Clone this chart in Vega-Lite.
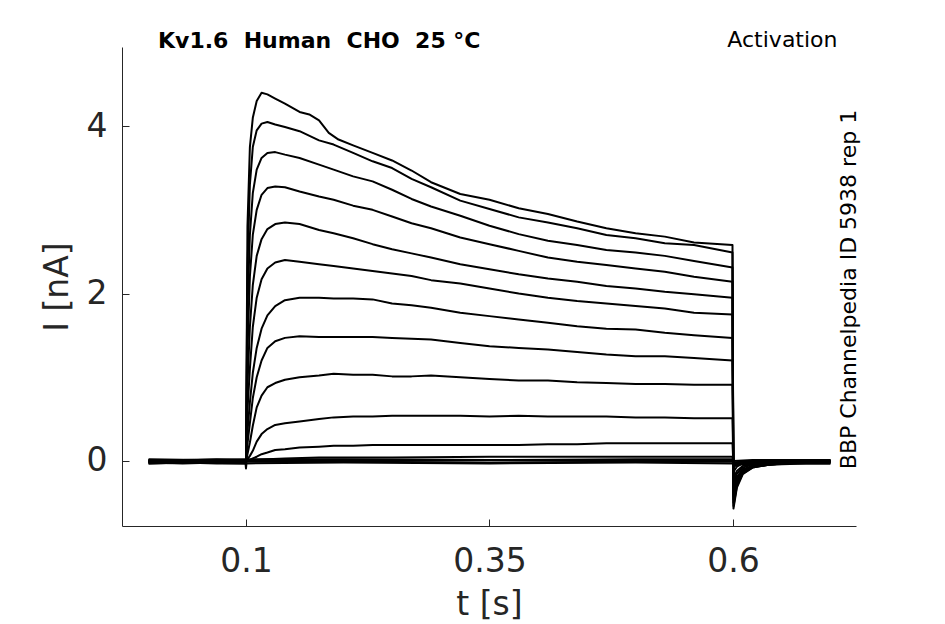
{
  "$schema": "https://vega.github.io/schema/vega-lite/v6.json",
  "description": "Kv1.6 activation current traces",
  "width": 734,
  "height": 479,
  "autosize": "none",
  "padding": {"left": 122, "top": 47, "right": 89, "bottom": 98},
  "background": "white",
  "config": {
    "view": {"stroke": null},
    "font": "DejaVu Sans",
    "axis": {
      "domainColor": "#262626",
      "domainWidth": 1,
      "tickColor": "#262626",
      "tickWidth": 1,
      "labelColor": "#262626",
      "labelFont": "DejaVu Sans",
      "labelFontSize": 33,
      "titleFont": "DejaVu Sans",
      "titleFontSize": 33,
      "titleFontWeight": "normal",
      "titleColor": "#262626",
      "grid": false
    }
  },
  "title": {
    "text": "Kv1.6\u00a0\u00a0Human\u00a0\u00a0CHO\u00a0\u00a025\u00a0°C",
    "anchor": "start",
    "frame": "group",
    "dx": 36,
    "offset": -42,
    "baseline": "alphabetic",
    "font": "DejaVu Sans",
    "fontSize": 22,
    "fontWeight": "bold",
    "color": "black"
  },
  "data": {
    "values": [
      {"s":1,"t":0,"i":-0.01},{"s":1,"t":0.035,"i":-0.02},{"s":1,"t":0.07,"i":-0.01},{"s":1,"t":0.1,"i":-0.01},
      {"s":1,"t":0.1015,"i":2.8},{"s":1,"t":0.104,"i":3.75},{"s":1,"t":0.107,"i":4.1},{"s":1,"t":0.111,"i":4.3},{"s":1,"t":0.116,"i":4.4},{"s":1,"t":0.122,"i":4.38},{"s":1,"t":0.13,"i":4.33},{"s":1,"t":0.14,"i":4.27},{"s":1,"t":0.155,"i":4.17},{"s":1,"t":0.165,"i":4.14},{"s":1,"t":0.175,"i":4.07},{"s":1,"t":0.185,"i":3.92},{"s":1,"t":0.195,"i":3.84},{"s":1,"t":0.21,"i":3.77},{"s":1,"t":0.23,"i":3.68},{"s":1,"t":0.25,"i":3.59},{"s":1,"t":0.27,"i":3.47},{"s":1,"t":0.29,"i":3.33},{"s":1,"t":0.32,"i":3.19},{"s":1,"t":0.35,"i":3.12},{"s":1,"t":0.38,"i":3.02},{"s":1,"t":0.41,"i":2.95},{"s":1,"t":0.44,"i":2.86},{"s":1,"t":0.47,"i":2.78},{"s":1,"t":0.5,"i":2.72},{"s":1,"t":0.53,"i":2.68},{"s":1,"t":0.56,"i":2.61},{"s":1,"t":0.5995,"i":2.58},
      {"s":1,"t":0.6005,"i":-0.57},{"s":1,"t":0.604,"i":-0.32},{"s":1,"t":0.61,"i":-0.16},{"s":1,"t":0.62,"i":-0.08},{"s":1,"t":0.635,"i":-0.05},{"s":1,"t":0.65,"i":-0.03},{"s":1,"t":0.675,"i":-0.02},{"s":1,"t":0.7,"i":-0.01},

      {"s":2,"t":0,"i":-0.02},{"s":2,"t":0.035,"i":-0.01},{"s":2,"t":0.07,"i":-0.02},{"s":2,"t":0.1,"i":-0.02},
      {"s":2,"t":0.1015,"i":2.3},{"s":2,"t":0.104,"i":3.3},{"s":2,"t":0.107,"i":3.75},{"s":2,"t":0.111,"i":3.95},{"s":2,"t":0.116,"i":4.03},{"s":2,"t":0.122,"i":4.05},{"s":2,"t":0.13,"i":4.02},{"s":2,"t":0.14,"i":3.99},{"s":2,"t":0.155,"i":3.94},{"s":2,"t":0.175,"i":3.83},{"s":2,"t":0.19,"i":3.78},{"s":2,"t":0.21,"i":3.68},{"s":2,"t":0.23,"i":3.58},{"s":2,"t":0.25,"i":3.5},{"s":2,"t":0.27,"i":3.37},{"s":2,"t":0.29,"i":3.27},{"s":2,"t":0.32,"i":3.11},{"s":2,"t":0.35,"i":3.01},{"s":2,"t":0.38,"i":2.91},{"s":2,"t":0.41,"i":2.85},{"s":2,"t":0.44,"i":2.78},{"s":2,"t":0.47,"i":2.7},{"s":2,"t":0.5,"i":2.66},{"s":2,"t":0.53,"i":2.6},{"s":2,"t":0.56,"i":2.58},{"s":2,"t":0.5995,"i":2.49},
      {"s":2,"t":0.6005,"i":-0.54},{"s":2,"t":0.604,"i":-0.3},{"s":2,"t":0.61,"i":-0.15},{"s":2,"t":0.62,"i":-0.08},{"s":2,"t":0.635,"i":-0.05},{"s":2,"t":0.65,"i":-0.03},{"s":2,"t":0.675,"i":-0.02},{"s":2,"t":0.7,"i":-0.02},

      {"s":3,"t":0,"i":0},{"s":3,"t":0.035,"i":-0.01},{"s":3,"t":0.07,"i":0},{"s":3,"t":0.1,"i":0},
      {"s":3,"t":0.1015,"i":1.8},{"s":3,"t":0.104,"i":2.7},{"s":3,"t":0.107,"i":3.2},{"s":3,"t":0.111,"i":3.48},{"s":3,"t":0.116,"i":3.62},{"s":3,"t":0.122,"i":3.68},{"s":3,"t":0.13,"i":3.69},{"s":3,"t":0.14,"i":3.66},{"s":3,"t":0.155,"i":3.62},{"s":3,"t":0.175,"i":3.54},{"s":3,"t":0.19,"i":3.48},{"s":3,"t":0.21,"i":3.4},{"s":3,"t":0.23,"i":3.34},{"s":3,"t":0.25,"i":3.24},{"s":3,"t":0.27,"i":3.13},{"s":3,"t":0.29,"i":3.04},{"s":3,"t":0.32,"i":2.93},{"s":3,"t":0.35,"i":2.81},{"s":3,"t":0.38,"i":2.71},{"s":3,"t":0.41,"i":2.63},{"s":3,"t":0.44,"i":2.58},{"s":3,"t":0.47,"i":2.52},{"s":3,"t":0.5,"i":2.49},{"s":3,"t":0.53,"i":2.45},{"s":3,"t":0.56,"i":2.39},{"s":3,"t":0.5995,"i":2.31},
      {"s":3,"t":0.6005,"i":-0.5},{"s":3,"t":0.604,"i":-0.28},{"s":3,"t":0.61,"i":-0.14},{"s":3,"t":0.62,"i":-0.07},{"s":3,"t":0.635,"i":-0.04},{"s":3,"t":0.65,"i":-0.02},{"s":3,"t":0.675,"i":-0.01},{"s":3,"t":0.7,"i":0},

      {"s":4,"t":0,"i":-0.03},{"s":4,"t":0.035,"i":-0.02},{"s":4,"t":0.07,"i":-0.03},{"s":4,"t":0.1,"i":-0.03},
      {"s":4,"t":0.1015,"i":1.3},{"s":4,"t":0.104,"i":2.2},{"s":4,"t":0.107,"i":2.7},{"s":4,"t":0.111,"i":3.0},{"s":4,"t":0.116,"i":3.18},{"s":4,"t":0.122,"i":3.26},{"s":4,"t":0.13,"i":3.28},{"s":4,"t":0.14,"i":3.27},{"s":4,"t":0.155,"i":3.22},{"s":4,"t":0.175,"i":3.16},{"s":4,"t":0.19,"i":3.12},{"s":4,"t":0.21,"i":3.05},{"s":4,"t":0.23,"i":3.0},{"s":4,"t":0.25,"i":2.92},{"s":4,"t":0.27,"i":2.84},{"s":4,"t":0.29,"i":2.78},{"s":4,"t":0.32,"i":2.67},{"s":4,"t":0.35,"i":2.59},{"s":4,"t":0.38,"i":2.51},{"s":4,"t":0.41,"i":2.43},{"s":4,"t":0.44,"i":2.38},{"s":4,"t":0.47,"i":2.34},{"s":4,"t":0.5,"i":2.3},{"s":4,"t":0.53,"i":2.26},{"s":4,"t":0.56,"i":2.2},{"s":4,"t":0.5995,"i":2.14},
      {"s":4,"t":0.6005,"i":-0.46},{"s":4,"t":0.604,"i":-0.26},{"s":4,"t":0.61,"i":-0.13},{"s":4,"t":0.62,"i":-0.07},{"s":4,"t":0.635,"i":-0.05},{"s":4,"t":0.65,"i":-0.04},{"s":4,"t":0.675,"i":-0.03},{"s":4,"t":0.7,"i":-0.03},

      {"s":5,"t":0,"i":0.01},{"s":5,"t":0.035,"i":0},{"s":5,"t":0.07,"i":0.01},{"s":5,"t":0.1,"i":0.01},
      {"s":5,"t":0.1015,"i":0.9},{"s":5,"t":0.104,"i":1.6},{"s":5,"t":0.107,"i":2.1},{"s":5,"t":0.111,"i":2.45},{"s":5,"t":0.116,"i":2.65},{"s":5,"t":0.122,"i":2.77},{"s":5,"t":0.13,"i":2.83},{"s":5,"t":0.14,"i":2.85},{"s":5,"t":0.155,"i":2.83},{"s":5,"t":0.175,"i":2.76},{"s":5,"t":0.19,"i":2.72},{"s":5,"t":0.21,"i":2.66},{"s":5,"t":0.23,"i":2.59},{"s":5,"t":0.25,"i":2.53},{"s":5,"t":0.27,"i":2.48},{"s":5,"t":0.29,"i":2.43},{"s":5,"t":0.32,"i":2.35},{"s":5,"t":0.35,"i":2.29},{"s":5,"t":0.38,"i":2.23},{"s":5,"t":0.41,"i":2.18},{"s":5,"t":0.44,"i":2.14},{"s":5,"t":0.47,"i":2.09},{"s":5,"t":0.5,"i":2.06},{"s":5,"t":0.53,"i":2.02},{"s":5,"t":0.56,"i":1.99},{"s":5,"t":0.5995,"i":1.95},
      {"s":5,"t":0.6005,"i":-0.42},{"s":5,"t":0.604,"i":-0.24},{"s":5,"t":0.61,"i":-0.12},{"s":5,"t":0.62,"i":-0.06},{"s":5,"t":0.635,"i":-0.03},{"s":5,"t":0.65,"i":-0.01},{"s":5,"t":0.675,"i":0},{"s":5,"t":0.7,"i":0.01},

      {"s":6,"t":0,"i":-0.01},{"s":6,"t":0.035,"i":0},{"s":6,"t":0.07,"i":-0.01},{"s":6,"t":0.1,"i":-0.01},
      {"s":6,"t":0.1015,"i":0.6},{"s":6,"t":0.104,"i":1.1},{"s":6,"t":0.107,"i":1.6},{"s":6,"t":0.111,"i":1.95},{"s":6,"t":0.116,"i":2.17},{"s":6,"t":0.122,"i":2.3},{"s":6,"t":0.13,"i":2.37},{"s":6,"t":0.14,"i":2.4},{"s":6,"t":0.155,"i":2.38},{"s":6,"t":0.175,"i":2.35},{"s":6,"t":0.19,"i":2.33},{"s":6,"t":0.21,"i":2.3},{"s":6,"t":0.23,"i":2.27},{"s":6,"t":0.25,"i":2.24},{"s":6,"t":0.27,"i":2.21},{"s":6,"t":0.29,"i":2.16},{"s":6,"t":0.32,"i":2.12},{"s":6,"t":0.35,"i":2.06},{"s":6,"t":0.38,"i":2.0},{"s":6,"t":0.41,"i":1.95},{"s":6,"t":0.44,"i":1.91},{"s":6,"t":0.47,"i":1.88},{"s":6,"t":0.5,"i":1.85},{"s":6,"t":0.53,"i":1.82},{"s":6,"t":0.56,"i":1.77},{"s":6,"t":0.5995,"i":1.75},
      {"s":6,"t":0.6005,"i":-0.38},{"s":6,"t":0.604,"i":-0.21},{"s":6,"t":0.61,"i":-0.11},{"s":6,"t":0.62,"i":-0.06},{"s":6,"t":0.635,"i":-0.04},{"s":6,"t":0.65,"i":-0.02},{"s":6,"t":0.675,"i":-0.01},{"s":6,"t":0.7,"i":-0.01},

      {"s":7,"t":0,"i":-0.02},{"s":7,"t":0.035,"i":-0.03},{"s":7,"t":0.07,"i":-0.02},{"s":7,"t":0.1,"i":-0.02},
      {"s":7,"t":0.1015,"i":0.35},{"s":7,"t":0.104,"i":0.7},{"s":7,"t":0.107,"i":1.05},{"s":7,"t":0.111,"i":1.35},{"s":7,"t":0.116,"i":1.58},{"s":7,"t":0.122,"i":1.74},{"s":7,"t":0.13,"i":1.85},{"s":7,"t":0.14,"i":1.92},{"s":7,"t":0.155,"i":1.95},{"s":7,"t":0.175,"i":1.95},{"s":7,"t":0.19,"i":1.94},{"s":7,"t":0.21,"i":1.94},{"s":7,"t":0.23,"i":1.93},{"s":7,"t":0.25,"i":1.88},{"s":7,"t":0.27,"i":1.86},{"s":7,"t":0.29,"i":1.83},{"s":7,"t":0.32,"i":1.77},{"s":7,"t":0.35,"i":1.73},{"s":7,"t":0.38,"i":1.69},{"s":7,"t":0.41,"i":1.65},{"s":7,"t":0.44,"i":1.61},{"s":7,"t":0.47,"i":1.58},{"s":7,"t":0.5,"i":1.57},{"s":7,"t":0.53,"i":1.53},{"s":7,"t":0.56,"i":1.5},{"s":7,"t":0.5995,"i":1.47},
      {"s":7,"t":0.6005,"i":-0.33},{"s":7,"t":0.604,"i":-0.19},{"s":7,"t":0.61,"i":-0.1},{"s":7,"t":0.62,"i":-0.06},{"s":7,"t":0.635,"i":-0.04},{"s":7,"t":0.65,"i":-0.03},{"s":7,"t":0.675,"i":-0.02},{"s":7,"t":0.7,"i":-0.02},

      {"s":8,"t":0,"i":0},{"s":8,"t":0.035,"i":0.01},{"s":8,"t":0.07,"i":0},{"s":8,"t":0.1,"i":0},
      {"s":8,"t":0.1015,"i":0.2},{"s":8,"t":0.104,"i":0.45},{"s":8,"t":0.107,"i":0.75},{"s":8,"t":0.111,"i":1.0},{"s":8,"t":0.116,"i":1.2},{"s":8,"t":0.122,"i":1.35},{"s":8,"t":0.13,"i":1.43},{"s":8,"t":0.14,"i":1.47},{"s":8,"t":0.155,"i":1.49},{"s":8,"t":0.175,"i":1.48},{"s":8,"t":0.19,"i":1.48},{"s":8,"t":0.21,"i":1.48},{"s":8,"t":0.23,"i":1.48},{"s":8,"t":0.25,"i":1.47},{"s":8,"t":0.27,"i":1.46},{"s":8,"t":0.29,"i":1.45},{"s":8,"t":0.32,"i":1.41},{"s":8,"t":0.35,"i":1.37},{"s":8,"t":0.38,"i":1.35},{"s":8,"t":0.41,"i":1.33},{"s":8,"t":0.44,"i":1.3},{"s":8,"t":0.47,"i":1.27},{"s":8,"t":0.5,"i":1.25},{"s":8,"t":0.53,"i":1.25},{"s":8,"t":0.56,"i":1.23},{"s":8,"t":0.5995,"i":1.2},
      {"s":8,"t":0.6005,"i":-0.27},{"s":8,"t":0.604,"i":-0.15},{"s":8,"t":0.61,"i":-0.08},{"s":8,"t":0.62,"i":-0.04},{"s":8,"t":0.635,"i":-0.02},{"s":8,"t":0.65,"i":-0.01},{"s":8,"t":0.675,"i":0},{"s":8,"t":0.7,"i":0},

      {"s":9,"t":0,"i":-0.01},{"s":9,"t":0.035,"i":-0.01},{"s":9,"t":0.07,"i":-0.02},{"s":9,"t":0.1,"i":-0.01},
      {"s":9,"t":0.1015,"i":0.08},{"s":9,"t":0.104,"i":0.22},{"s":9,"t":0.107,"i":0.42},{"s":9,"t":0.111,"i":0.64},{"s":9,"t":0.116,"i":0.78},{"s":9,"t":0.122,"i":0.88},{"s":9,"t":0.13,"i":0.93},{"s":9,"t":0.14,"i":0.97},{"s":9,"t":0.155,"i":1.0},{"s":9,"t":0.175,"i":1.02},{"s":9,"t":0.19,"i":1.04},{"s":9,"t":0.21,"i":1.03},{"s":9,"t":0.23,"i":1.03},{"s":9,"t":0.25,"i":1.01},{"s":9,"t":0.27,"i":1.01},{"s":9,"t":0.29,"i":1.02},{"s":9,"t":0.32,"i":1.0},{"s":9,"t":0.35,"i":0.98},{"s":9,"t":0.38,"i":0.96},{"s":9,"t":0.41,"i":0.96},{"s":9,"t":0.44,"i":0.94},{"s":9,"t":0.47,"i":0.93},{"s":9,"t":0.5,"i":0.92},{"s":9,"t":0.53,"i":0.92},{"s":9,"t":0.56,"i":0.91},{"s":9,"t":0.5995,"i":0.91},
      {"s":9,"t":0.6005,"i":-0.21},{"s":9,"t":0.604,"i":-0.12},{"s":9,"t":0.61,"i":-0.06},{"s":9,"t":0.62,"i":-0.03},{"s":9,"t":0.635,"i":-0.02},{"s":9,"t":0.65,"i":-0.01},{"s":9,"t":0.675,"i":-0.01},{"s":9,"t":0.7,"i":-0.01},

      {"s":10,"t":0,"i":0.01},{"s":10,"t":0.035,"i":0.01},{"s":10,"t":0.07,"i":0.02},{"s":10,"t":0.1,"i":0.01},
      {"s":10,"t":0.1015,"i":0.02},{"s":10,"t":0.104,"i":0.06},{"s":10,"t":0.107,"i":0.12},{"s":10,"t":0.111,"i":0.23},{"s":10,"t":0.116,"i":0.32},{"s":10,"t":0.122,"i":0.38},{"s":10,"t":0.13,"i":0.43},{"s":10,"t":0.14,"i":0.45},{"s":10,"t":0.155,"i":0.47},{"s":10,"t":0.175,"i":0.5},{"s":10,"t":0.19,"i":0.52},{"s":10,"t":0.21,"i":0.53},{"s":10,"t":0.23,"i":0.53},{"s":10,"t":0.25,"i":0.54},{"s":10,"t":0.27,"i":0.54},{"s":10,"t":0.29,"i":0.54},{"s":10,"t":0.32,"i":0.54},{"s":10,"t":0.35,"i":0.53},{"s":10,"t":0.38,"i":0.54},{"s":10,"t":0.41,"i":0.53},{"s":10,"t":0.44,"i":0.53},{"s":10,"t":0.47,"i":0.53},{"s":10,"t":0.5,"i":0.52},{"s":10,"t":0.53,"i":0.52},{"s":10,"t":0.56,"i":0.51},{"s":10,"t":0.5995,"i":0.51},
      {"s":10,"t":0.6005,"i":-0.13},{"s":10,"t":0.604,"i":-0.07},{"s":10,"t":0.61,"i":-0.03},{"s":10,"t":0.62,"i":-0.01},{"s":10,"t":0.635,"i":0},{"s":10,"t":0.65,"i":0.01},{"s":10,"t":0.675,"i":0.01},{"s":10,"t":0.7,"i":0.01},

      {"s":11,"t":0,"i":-0.02},{"s":11,"t":0.035,"i":-0.02},{"s":11,"t":0.07,"i":-0.01},{"s":11,"t":0.1,"i":-0.02},
      {"s":11,"t":0.1015,"i":0},{"s":11,"t":0.104,"i":0.01},{"s":11,"t":0.107,"i":0.03},{"s":11,"t":0.111,"i":0.05},{"s":11,"t":0.116,"i":0.08},{"s":11,"t":0.122,"i":0.1},{"s":11,"t":0.13,"i":0.13},{"s":11,"t":0.14,"i":0.14},{"s":11,"t":0.155,"i":0.16},{"s":11,"t":0.175,"i":0.17},{"s":11,"t":0.19,"i":0.18},{"s":11,"t":0.21,"i":0.18},{"s":11,"t":0.23,"i":0.19},{"s":11,"t":0.25,"i":0.19},{"s":11,"t":0.27,"i":0.19},{"s":11,"t":0.29,"i":0.19},{"s":11,"t":0.32,"i":0.19},{"s":11,"t":0.35,"i":0.19},{"s":11,"t":0.38,"i":0.19},{"s":11,"t":0.41,"i":0.2},{"s":11,"t":0.44,"i":0.2},{"s":11,"t":0.47,"i":0.21},{"s":11,"t":0.5,"i":0.21},{"s":11,"t":0.53,"i":0.21},{"s":11,"t":0.56,"i":0.21},{"s":11,"t":0.5995,"i":0.21},
      {"s":11,"t":0.6005,"i":-0.07},{"s":11,"t":0.604,"i":-0.05},{"s":11,"t":0.61,"i":-0.03},{"s":11,"t":0.62,"i":-0.02},{"s":11,"t":0.635,"i":-0.02},{"s":11,"t":0.65,"i":-0.02},{"s":11,"t":0.675,"i":-0.02},{"s":11,"t":0.7,"i":-0.02},

      {"s":12,"t":0,"i":0},{"s":12,"t":0.035,"i":-0.01},{"s":12,"t":0.07,"i":0},{"s":12,"t":0.1,"i":0},
      {"s":12,"t":0.107,"i":0.01},{"s":12,"t":0.122,"i":0.02},{"s":12,"t":0.14,"i":0.03},{"s":12,"t":0.175,"i":0.04},{"s":12,"t":0.25,"i":0.04},{"s":12,"t":0.35,"i":0.05},{"s":12,"t":0.47,"i":0.05},{"s":12,"t":0.5995,"i":0.05},
      {"s":12,"t":0.6005,"i":-0.04},{"s":12,"t":0.604,"i":-0.02},{"s":12,"t":0.61,"i":-0.01},{"s":12,"t":0.62,"i":0},{"s":12,"t":0.7,"i":0},

      {"s":13,"t":0,"i":-0.03},{"s":13,"t":0.05,"i":-0.02},{"s":13,"t":0.0995,"i":-0.03},{"s":13,"t":0.1,"i":-0.09},{"s":13,"t":0.1005,"i":-0.03},{"s":13,"t":0.2,"i":-0.02},{"s":13,"t":0.35,"i":-0.03},{"s":13,"t":0.5,"i":-0.02},{"s":13,"t":0.5995,"i":-0.03},{"s":13,"t":0.6005,"i":-0.05},{"s":13,"t":0.62,"i":-0.03},{"s":13,"t":0.7,"i":-0.03},
      {"s":14,"t":0,"i":0.02},{"s":14,"t":0.05,"i":0.01},{"s":14,"t":0.1,"i":0.02},{"s":14,"t":0.2,"i":0.02},{"s":14,"t":0.35,"i":0.01},{"s":14,"t":0.5,"i":0.02},{"s":14,"t":0.5995,"i":0.02},{"s":14,"t":0.6005,"i":0},{"s":14,"t":0.62,"i":0.01},{"s":14,"t":0.7,"i":0.01},
      {"s":15,"t":0,"i":-0.01},{"s":15,"t":0.05,"i":-0.02},{"s":15,"t":0.1,"i":-0.01},{"s":15,"t":0.2,"i":-0.01},{"s":15,"t":0.35,"i":-0.02},{"s":15,"t":0.5,"i":-0.01},{"s":15,"t":0.5995,"i":-0.01},{"s":15,"t":0.6005,"i":-0.03},{"s":15,"t":0.62,"i":-0.02},{"s":15,"t":0.7,"i":-0.01},
      {"s":16,"t":0,"i":0.01},{"s":16,"t":0.05,"i":0},{"s":16,"t":0.1,"i":0.01},{"s":16,"t":0.2,"i":0},{"s":16,"t":0.35,"i":0.01},{"s":16,"t":0.5,"i":0},{"s":16,"t":0.5995,"i":0.01},{"s":16,"t":0.6005,"i":-0.02},{"s":16,"t":0.62,"i":0},{"s":16,"t":0.7,"i":0}
    ]
  },
  "layer": [
    {
      "mark": {"type": "line", "color": "black", "strokeWidth": 2, "strokeJoin": "round"},
      "encoding": {
        "x": {
          "field": "t",
          "type": "quantitative",
          "scale": {"domain": [-0.0273, 0.7263], "nice": false, "zero": false},
          "axis": {
            "orient": "bottom",
            "values": [0.1, 0.35, 0.6],
            "labelExpr": "format(datum.value, '~g')",
            "tickSize": -7,
            "labelPadding": 26,
            "title": "t [s]",
            "titlePadding": 10
          }
        },
        "y": {
          "field": "i",
          "type": "quantitative",
          "scale": {"domain": [-0.778, 4.946], "nice": false, "zero": false},
          "axis": {
            "orient": "left",
            "values": [0, 2, 4],
            "tickSize": -7,
            "labelPadding": 22,
            "title": "I [nA]",
            "titlePadding": 12
          }
        },
        "detail": {"field": "s", "type": "nominal"}
      }
    },
    {
      "mark": {"type": "line", "opacity": 0},
      "encoding": {
        "x": {
          "field": "t",
          "type": "quantitative",
          "axis": {
            "orient": "top",
            "domain": false,
            "ticks": false,
            "labels": false,
            "title": "Activation",
            "titleFontSize": 22,
            "titleColor": "black",
            "titleAlign": "right",
            "titleBaseline": "alphabetic",
            "titleX": 715,
            "titleY": -1
          }
        },
        "y": {
          "field": "i",
          "type": "quantitative",
          "axis": {
            "orient": "right",
            "domain": false,
            "ticks": false,
            "labels": false,
            "title": "BBP Channelpedia ID 5938 rep 1",
            "titleFontSize": 22,
            "titleColor": "black",
            "titleAngle": 270,
            "titleAlign": "center",
            "titleBaseline": "alphabetic",
            "titleX": -1,
            "titleY": 242
          }
        },
        "detail": {"field": "s", "type": "nominal"}
      }
    }
  ],
  "resolve": {"axis": {"x": "independent", "y": "independent"}}
}
